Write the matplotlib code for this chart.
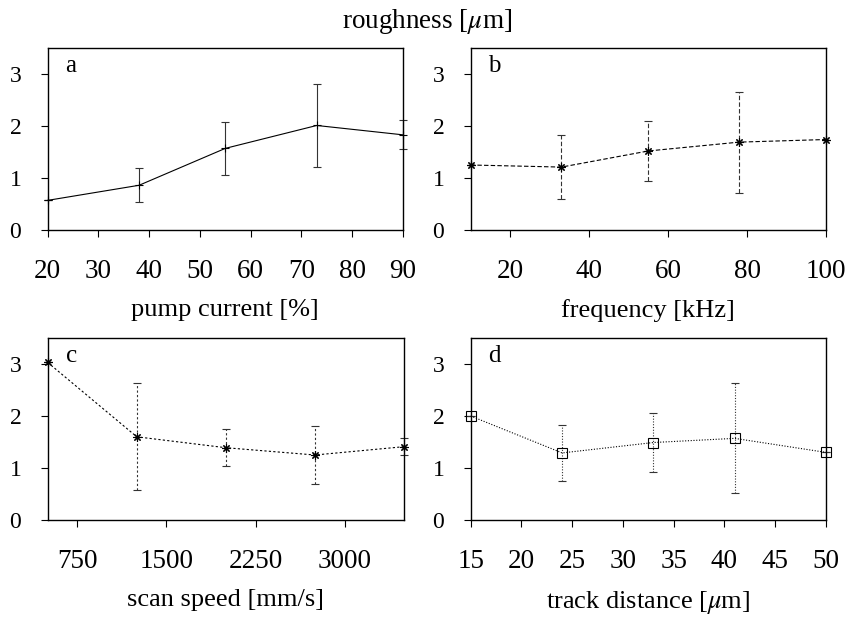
import matplotlib
matplotlib.use("Agg")
import matplotlib.pyplot as plt

plt.rcParams['font.family'] = ['Liberation Serif', 'DejaVu Serif']
plt.rcParams['mathtext.fontset'] = 'stix'

# pump current
a_x = [20, 38, 55, 73, 90]
a_y = [0.57, 0.86, 1.57, 2.01, 1.83]
a_err = [0.0, 0.33, 0.51, 0.80, 0.28]

# frequency
b_x = [10, 33, 55, 78, 100]
b_y = [1.25, 1.21, 1.52, 1.69, 1.74]
b_err = [0.0, 0.61, 0.58, 0.97, 0.0]

# scan speed
c_x = [500, 1250, 2000, 2750, 3500]
c_y = [3.03, 1.60, 1.39, 1.25, 1.41]
c_err = [0.0, 1.03, 0.36, 0.56, 0.16]

# track distance
d_x = [15, 24, 33, 41, 50]
d_y = [2.0, 1.29, 1.49, 1.57, 1.30]
d_err = [0.0, 0.54, 0.56, 1.06, 0.0]

fig = plt.figure(figsize=(8.54, 6.17), dpi=100)

W, H = 854, 617
def axes_px(l, t, r, b):
  return fig.add_axes([l / W, 1 - b / H, (r - l) / W, (b - t) / H])

ax_a = axes_px(47.7, 48, 403, 230)
ax_b = axes_px(470.7, 48, 826, 230)
ax_c = axes_px(47.7, 338, 404, 520)
ax_d = axes_px(470.7, 338, 826, 520)

panels = [
  (ax_a, a_x, a_y, a_err, 'a', '-', (0, ()), '+', 6, (20, 90), [20, 30, 40, 50, 60, 70, 80, 90], 'pump current [%]'),
  (ax_b, b_x, b_y, b_err, 'b', (0, (4, 2)), (0, (4, 2)), (8, 2, 0), 6, (10, 100), [20, 40, 60, 80, 100], 'frequency [kHz]'),
  (ax_c, c_x, c_y, c_err, 'c', (0, (2, 2)), (0, (2, 2)), (8, 2, 0), 6, (500, 3500), [750, 1500, 2250, 3000], 'scan speed [mm/s]'),
  (ax_d, d_x, d_y, d_err, 'd', (0, (1, 1.5)), (0, (1, 1.5)), 's', 6.5, (15, 50), [15, 20, 25, 30, 35, 40, 45, 50], r'track distance [$\mu$m]'),
]

for ax, x, y, err, tag, ls, els, mk, ms, xl, xt, xlabel in panels:
  cont = ax.errorbar(x, y, yerr=err, color='black', ecolor='#333333', elinewidth=0.8,
                     capsize=3, capthick=0.8, linestyle=ls, linewidth=0.8,
                     marker=mk, markersize=ms, markerfacecolor='none',
                     markeredgecolor='black', markeredgewidth=0.8, clip_on=False)
  for lc in cont[2]:
    lc.set_linestyle(els)
  ax.set_xlim(*xl)
  ax.set_ylim(0, 3.5)
  ax.set_xticks(xt)
  ax.set_yticks([0, 1, 2, 3])
  ax.tick_params(direction='out', length=5, width=0.8, top=False, right=False)
  ax.tick_params(axis='x', pad=16, labelsize=19.5)
  ax.tick_params(axis='y', pad=14, labelsize=17)
  for s in ax.spines.values():
    s.set_linewidth(1.0)
  ax.text(0.05, 0.9, tag, transform=ax.transAxes, fontsize=18, ha='left', va='center')
  ax.set_xlabel(xlabel, fontsize=19, labelpad=10.5)

fig.text(427 / W, 1 - 21 / H, r'roughness [$\mu$m]', fontsize=19.5, ha='center', va='center')

fig.savefig('out.png', dpi=100)
